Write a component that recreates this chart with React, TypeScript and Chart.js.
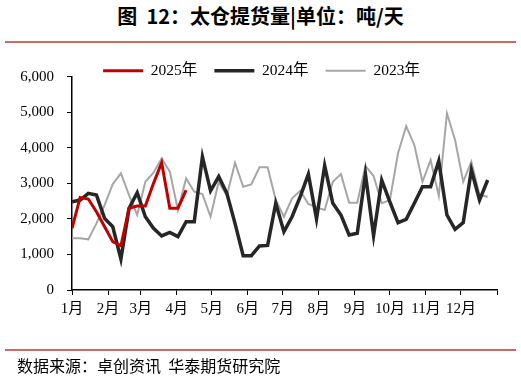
import React, { useEffect, useRef } from "react";
import { Chart, registerables } from "chart.js";

Chart.register(...registerables);

const monthLabels = ["1月", "2月", "3月", "4月", "5月", "6月", "7月", "8月", "9月", "10月", "11月", "12月", ""];
const monthStartDays = [0, 31, 59, 90, 120, 151, 181, 212, 243, 273, 304, 334, 365];

const seriesNames = ["2025年", "2024年", "2023年"];

const values2025 = [1735, 2605, 2560, 2200, 1780, 1360, 1245, 2300, 2360, 2360, 3000, 3580, 2300, 2300, 2810];

const values2024 = [
  2480, 2530, 2720, 2670, 2015, 1780, 870, 2300, 2740, 2060, 1735, 1520, 1620,
  1500, 1920, 1920, 3750, 2790, 3190, 2720, 1875, 965, 965, 1240, 1255, 2440,
  1640, 2060, 2625, 3260, 2000, 3500, 2440, 2110, 1550, 1595, 3260, 1530, 3090,
  2480, 1895, 1990, 2440, 2905, 2905, 3630, 2110, 1705, 1895, 3375, 2530, 3095,
];

const values2023 = [
  1455, 1455, 1425, 1875, 2390, 2980, 3280, 2670, 2110, 3045, 3300, 3700, 3330,
  2250, 3140, 2765, 2700, 2060, 3045, 2650, 3580, 2905, 2970, 3450, 3450, 2530,
  2060, 2580, 2790, 2420, 2325, 2250, 3045, 3260, 2455, 2455, 3490, 3205, 2440,
  2530, 3845, 4610, 4080, 3045, 3655, 2645, 4970, 4220, 3045, 3610, 2670, 2625,
];

const DAYS_PER_WEEK = 7;
const toPoints = (vals: number[]) => vals.map((v, i) => ({ x: i * DAYS_PER_WEEK, y: v }));

const FONT = "'Liberation Serif', 'Times New Roman', 'Noto Sans CJK SC', serif";

const LEGEND_SHIFT = 13;
const legendShift = {
  id: "legendShift",
  afterLayout(chart: any) {
    const l = chart.legend;
    if (l) {
      l.left += LEGEND_SHIFT;
      l.right += LEGEND_SHIFT;
    }
  },
};

export default function App() {
  const ref = useRef<HTMLCanvasElement | null>(null);

  useEffect(() => {
    if (!ref.current) return;
    const chart = new Chart(ref.current, {
      type: "line",
      data: {
        datasets: [
          {
            label: seriesNames[0],
            data: toPoints(values2025),
            borderColor: "#C00000",
            backgroundColor: "#C00000",
            borderWidth: 3,
            pointRadius: 0,
            tension: 0,
          },
          {
            label: seriesNames[1],
            data: toPoints(values2024),
            borderColor: "#262626",
            backgroundColor: "#262626",
            borderWidth: 3.5,
            pointRadius: 0,
            tension: 0,
          },
          {
            label: seriesNames[2],
            data: toPoints(values2023),
            borderColor: "#A6A6A6",
            backgroundColor: "#A6A6A6",
            borderWidth: 2,
            pointRadius: 0,
            tension: 0,
          },
        ],
      },
      plugins: [legendShift],
      options: {
        responsive: false,
        animation: false,
        layout: { padding: { top: 46, left: 0, right: 24, bottom: 59 } },
        plugins: {
          tooltip: { enabled: false },
          legend: {
            display: true,
            position: "top",
            maxHeight: 30.7,
            labels: {
              usePointStyle: true,
              pointStyle: "line",
              pointStyleWidth: 40,
              padding: 17,
              color: "#000",
              font: { family: FONT, size: 15.5 },
            },
          } as any,
        },
        scales: {
          x: {
            type: "linear",
            min: 0,
            max: 365,
            afterBuildTicks: (scale: any) => {
              scale.ticks = monthStartDays.map((d) => ({ value: d }));
            },
            afterFit: (scale: any) => {
              scale.height = 30;
            },
            grid: {
              display: true,
              drawOnChartArea: false,
              drawTicks: true,
              tickLength: 5,
              color: "#000",
              lineWidth: 1,
            },
            border: { display: true, color: "#000", width: 1.5 },
            ticks: {
              autoSkip: false,
              maxRotation: 0,
              padding: 5,
              color: "#000",
              font: { family: FONT, size: 15 },
              callback: (_v: any, i: number) => monthLabels[i] ?? "",
            },
          },
          y: {
            min: 0,
            max: 6000,
            afterFit: (scale: any) => {
              scale.width = 72;
            },
            grid: {
              display: true,
              drawOnChartArea: false,
              drawTicks: true,
              tickLength: 5,
              color: "#000",
              lineWidth: 1,
            },
            border: { display: true, color: "#000", width: 1.5 },
            ticks: {
              stepSize: 1000,
              padding: 13,
              color: "#000",
              font: { family: FONT, size: 15 },
              callback: (v: any) => Number(v).toLocaleString("en-US"),
            },
          },
        },
      } as any,
    });
    return () => chart.destroy();
  }, []);

  return (
    <div style={{ position: "absolute", left: 0, top: 0, width: 521, height: 379, background: "#fff" }}>
      <div
        style={{
          position: "absolute",
          top: 3,
          left: 0,
          width: 521,
          textAlign: "center",
          fontFamily: "'Noto Sans CJK SC', sans-serif",
          fontWeight: 700,
          fontSize: 20,
          lineHeight: "26px",
          color: "#000",
          whiteSpace: "pre",
        }}
      >
        {"图  12：太仓提货量|单位：吨/天"}
      </div>
      <div style={{ position: "absolute", top: 41, left: 5, width: 511, height: 2, background: "#C86A6A" }} />
      <canvas ref={ref} width={521} height={379} style={{ position: "absolute", left: 0, top: 0 }} />
      <div style={{ position: "absolute", top: 349, left: 5, width: 511, height: 2, background: "#C86A6A" }} />
      <div
        style={{
          position: "absolute",
          top: 355,
          left: 17,
          fontFamily: "'Noto Sans CJK SC', sans-serif",
          fontSize: 16,
          lineHeight: "21px",
          color: "#000",
          whiteSpace: "pre",
        }}
      >
        {"数据来源：卓创资讯  华泰期货研究院"}
      </div>
    </div>
  );
}
